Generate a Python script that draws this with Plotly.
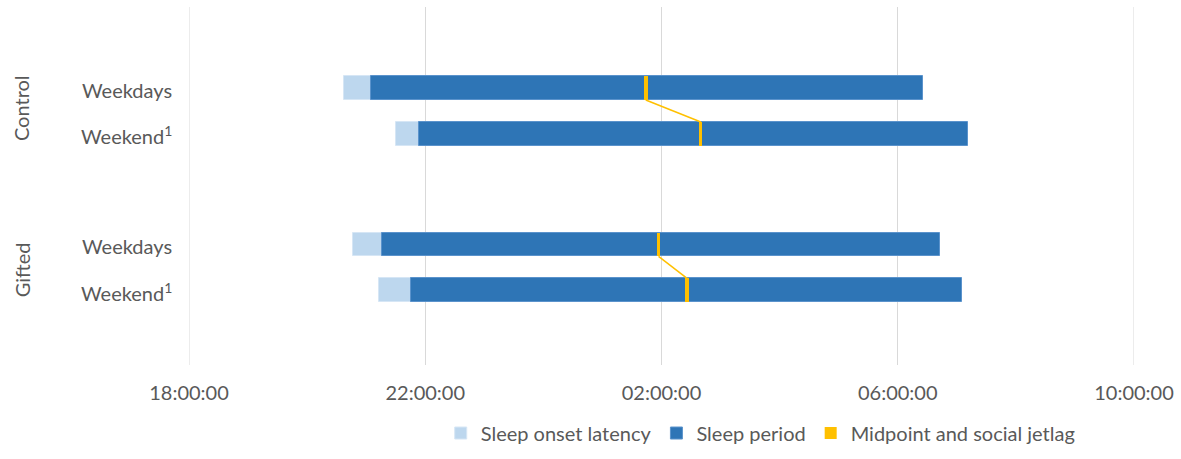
import plotly.graph_objects as go

# Sleep timing per group and day type (clock times, HH:MM)
groups = ["Control", "Control", "Gifted", "Gifted"]
day_types = ["Weekdays", "Weekend<sup>1</sup>", "Weekdays", "Weekend<sup>1</sup>"]
bedtime = ["20:37", "21:30", "20:47", "21:13"]        # start of sleep onset latency
sleep_onset = ["21:05", "21:54", "21:16", "21:46"]    # start of sleep period
wake_time = ["06:26", "07:11", "06:43", "07:05"]      # end of sleep period
midpoint = ["01:44", "02:40", "01:57", "02:26"]       # midpoint of sleep
midpoint_mark_min = [4, 2, 2, 4]                      # drawn width of the midpoint mark (minutes)

tick_hours = [18, 22, 26, 30, 34]
tick_text = ["18:00:00", "22:00:00", "02:00:00", "06:00:00", "10:00:00"]

# Layout: vertical row centres (axis units) and bar thickness
row_y = [82.5, 129, 241.5, 288]
bar_h = 24
group_label_y = [103, 267]

C_LAT = "#BDD7EE"
C_SLEEP = "#2E75B6"
C_MID = "#FFC000"
C_GRID = "#D9D9D9"
TXT = "#595959"
FONT = "Lato"
FS = 20


def to_hours(hhmm):
    h, m = (int(v) for v in hhmm.split(":"))
    t = h + m / 60
    return t + 24 if t < 12 else t


bt = [to_hours(v) for v in bedtime]
so = [to_hours(v) for v in sleep_onset]
wk = [to_hours(v) for v in wake_time]
mp = [to_hours(v) for v in midpoint]
mw = [m / 60 for m in midpoint_mark_min]

fig = go.Figure()

fig.add_trace(go.Bar(
    name="Sleep onset latency", orientation="h", y=row_y,
    base=bt, x=[s - b for s, b in zip(so, bt)], width=bar_h,
    marker=dict(color=C_LAT, line=dict(color="#d6e6f5", width=1)),
))
fig.add_trace(go.Bar(
    name="Sleep period", orientation="h", y=row_y,
    base=so, x=[w - s for w, s in zip(wk, so)], width=bar_h,
    marker=dict(color=C_SLEEP, line=dict(color="#5b93cc", width=1)),
))
fig.add_trace(go.Bar(
    name="Midpoint and social jetlag", orientation="h", y=row_y,
    base=[m - w / 2 for m, w in zip(mp, mw)], x=mw, width=bar_h,
    marker=dict(color=C_MID, line=dict(width=0)),
))

# Social jetlag connectors: weekday midpoint -> weekend midpoint
for i in (0, 2):
    fig.add_trace(go.Scatter(
        x=[mp[i], mp[i + 1]],
        y=[row_y[i] + bar_h / 2, row_y[i + 1] - bar_h / 2],
        mode="lines", line=dict(color=C_MID, width=1.5),
        showlegend=False, hoverinfo="skip",
    ))

# Gridlines at the two ends of the time axis
for h in (tick_hours[0], tick_hours[-1]):
    fig.add_shape(type="line", xref="x", yref="paper", x0=h, x1=h, y0=0, y1=1,
                  line=dict(color=C_GRID, width=1), layer="below")

# Category labels
for y, label in zip(row_y, day_types):
    fig.add_annotation(
        x=-0.066, xref="paper", y=y + 1.5, yref="y", text=label,
        showarrow=False, xanchor="center", yanchor="middle",
        font=dict(family=FONT, size=FS, color=TXT),
    )
for y, label in zip(group_label_y, ["Control", "Gifted"]):
    fig.add_annotation(
        x=-0.177, xref="paper", y=y, yref="y", text=label, textangle=-90,
        showarrow=False, xanchor="center", yanchor="middle",
        font=dict(family=FONT, size=FS, color=TXT),
    )

fig.update_layout(
    width=1181, height=459,
    margin=dict(l=189, r=47, t=7, b=88),
    paper_bgcolor="white", plot_bgcolor="white",
    barmode="overlay", bargap=0,
    font=dict(family=FONT, size=FS, color=TXT),
    showlegend=True,
    legend=dict(
        orientation="h", x=0.605, xanchor="center", y=-0.19, yanchor="middle",
        font=dict(family=FONT, size=FS, color=TXT),
        itemwidth=30, traceorder="normal",
    ),
    xaxis=dict(
        range=[18, 34], tickvals=tick_hours, ticktext=tick_text,
        showgrid=True, gridcolor=C_GRID, gridwidth=1,
        zeroline=False, showline=False, ticks="",
        ticklabelstandoff=14,
        tickfont=dict(family=FONT, size=FS, color=TXT),
    ),
    yaxis=dict(
        range=[364, 0], showgrid=False, zeroline=False,
        showticklabels=False, showline=False, ticks="",
    ),
)

fig.write_html("out.html")
